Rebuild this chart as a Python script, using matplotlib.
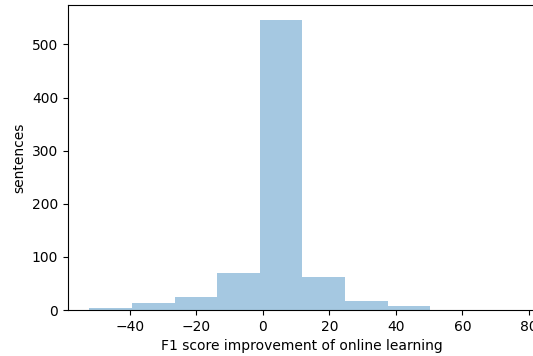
import matplotlib
matplotlib.use("Agg")
import matplotlib.pyplot as plt
import numpy as np

bin_edges = [-52.1, -39.3, -26.5, -13.7, -0.9, 11.9, 24.7, 37.5, 50.3, 63.1, 75.9]
counts = [4, 13, 25, 70, 547, 62, 17, 8, 0, 1]
xlabel = "F1 score improvement of online learning"
ylabel = "sentences"

fig = plt.figure(figsize=(5.33, 3.56), dpi=100)
ax = fig.add_axes([0.1276, 0.129, 1.007 - 0.1276, 0.986 - 0.129])

centers = [(bin_edges[i] + bin_edges[i + 1]) / 2 for i in range(len(counts))]
ax.hist(centers, bins=bin_edges, weights=counts, color="#1f77b4", alpha=0.4)

ax.set_xlabel(xlabel)
ax.set_ylabel(ylabel)
ax.set_xticks([-40, -20, 0, 20, 40, 60, 80])
ax.set_yticks([0, 100, 200, 300, 400, 500])
ax.spines["right"].set_visible(False)

fig.savefig("out.png", dpi=100)
